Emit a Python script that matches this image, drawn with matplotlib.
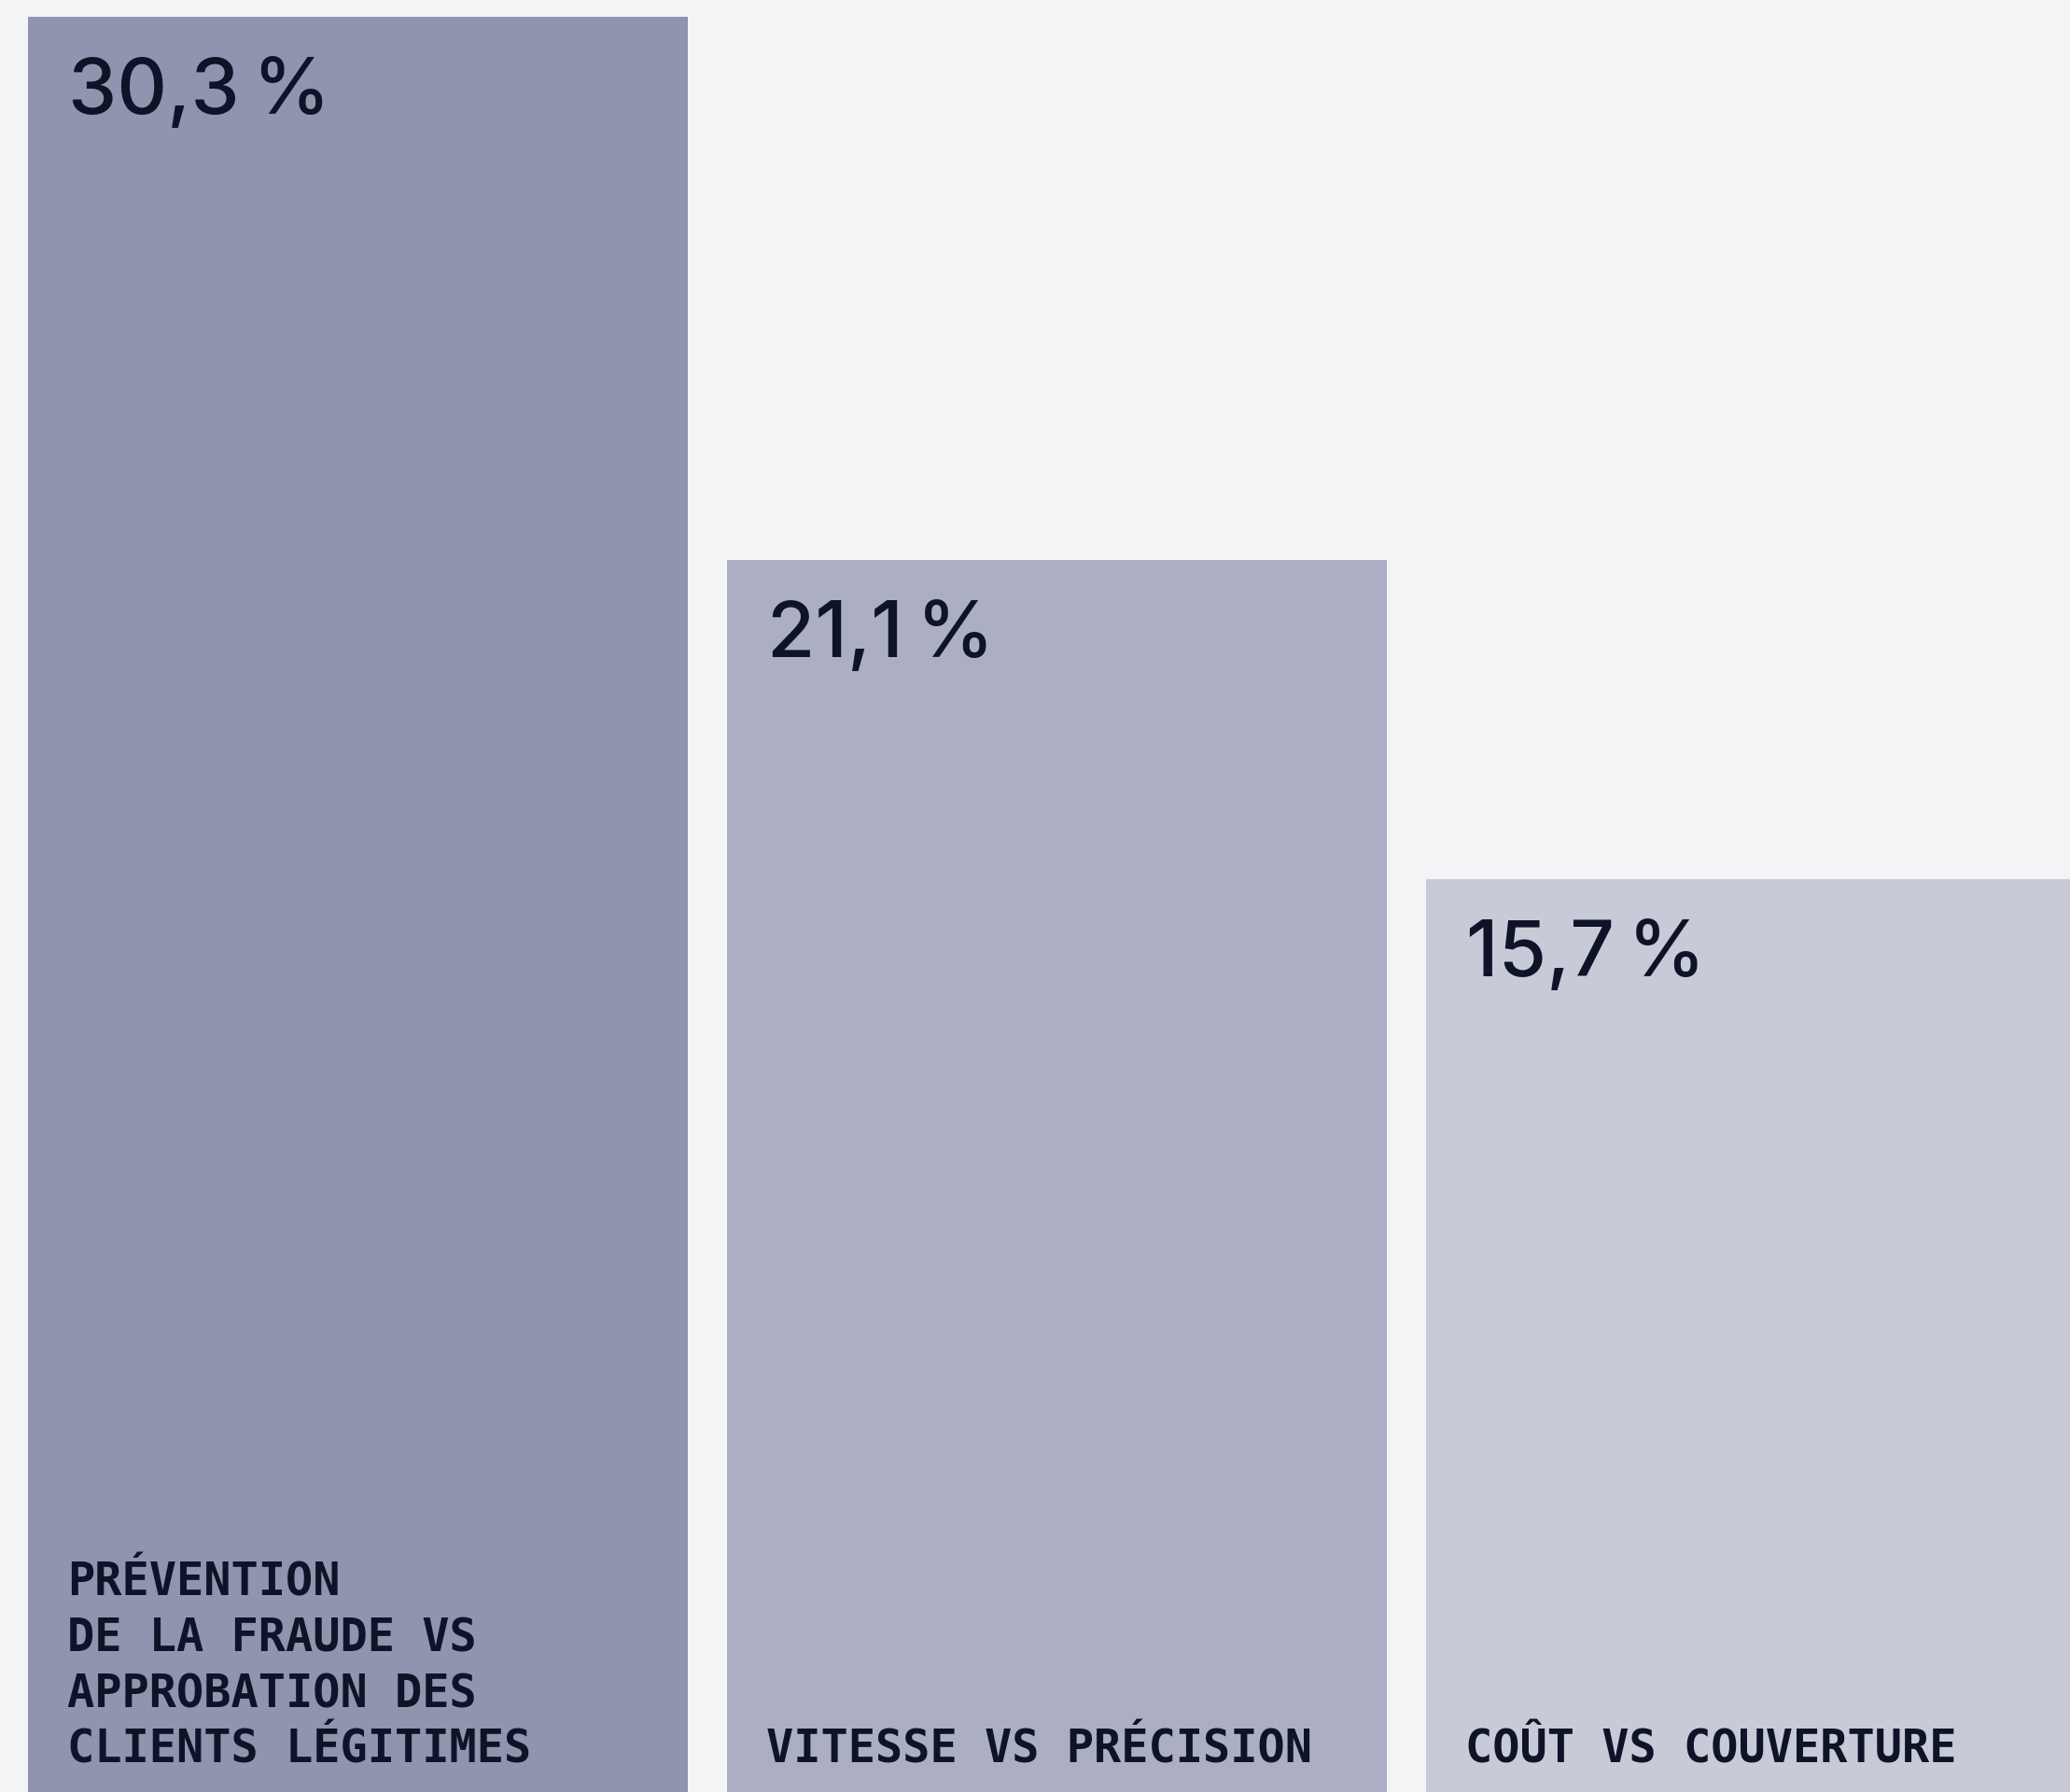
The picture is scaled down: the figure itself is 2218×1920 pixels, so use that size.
import matplotlib.pyplot as plt
import numpy as np

# values
categories = ["PRÉVENTION\nDE LA FRAUDE VS\nAPPROBATION DES\nCLIENTS LÉGITIMES",
              "VITESSE VS PRÉCISION",
              "COÛT VS COUVERTURE"]
values = [30.3, 21.1, 15.7]
value_labels = ["30,3\u202f%", "21,1\u202f%", "15,7\u202f%"]
colors = ["#9094ae", "#abaec4", "#c8cad7"]

bg = "#f3f4f6"
ink = "#0e1428"

fig = plt.figure(figsize=(22.18, 19.2), dpi=100, facecolor=bg)
ax = fig.add_axes([0, 0, 1, 1])
ax.set_facecolor(bg)

x = np.arange(len(values))
width = 0.944
bars = ax.bar(x, values, width=width, color=colors, linewidth=0)

# bar baseline sits a little below the bottom edge
ax.set_xlim(-0.512, 2.449)
ax.set_ylim(0.237, 30.58)
ax.axis("off")

for bar, val_txt, cat in zip(bars, value_labels, categories):
    left = bar.get_x()
    top = bar.get_height()
    # big value at top-left of the bar
    ax.annotate(val_txt, xy=(left, top), xytext=(31, -75), textcoords="offset points",
                ha="left", va="baseline", fontsize=60, color=ink,
                family=["Inter", "DejaVu Sans"], fontweight="medium")
    # category label at bottom-left of the bar
    ax.annotate(cat, xy=(left, 0), xytext=(30, 26), textcoords="offset points",
                ha="left", va="bottom", fontsize=35, color=ink,
                family="DejaVu Sans Mono", fontweight="bold", linespacing=1.31,
                annotation_clip=False)

fig.savefig("out.png", dpi=100, facecolor=bg)
